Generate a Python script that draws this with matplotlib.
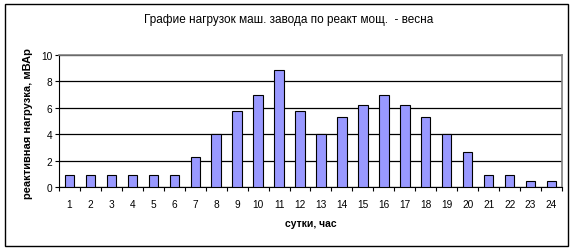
import matplotlib
matplotlib.use("Agg")
import matplotlib.pyplot as plt
from matplotlib.patches import Rectangle

# data
hours = list(range(1, 25))
load = [0.9, 0.9, 0.9, 0.9, 0.9, 0.9, 2.25, 4.0, 5.75, 7.0, 8.85, 5.75,
        4.0, 5.3, 6.2, 7.0, 6.2, 5.3, 4.0, 2.65, 0.9, 0.9, 0.45, 0.45]
yticks = [0, 2, 4, 6, 8, 10]

title = "Графие нагрузок маш. завода по реакт мощ.  - весна"
xlabel = "сутки, час"
ylabel = "реактивная нагрузка, мВАр"

plt.rcParams['font.family'] = ['Liberation Sans', 'DejaVu Sans']

W, H = 576, 253
fig = plt.figure(figsize=(W / 100, H / 100), dpi=100)

# outer chart border
fig.patches.append(Rectangle((5 / W, 1 - 247 / H), 563 / W, 242 / H,
                             transform=fig.transFigure, fill=False,
                             edgecolor='black', linewidth=1))

# plot area in pixels
left, right, top, bottom = 59, 562, 56, 188
ax = fig.add_axes([left / W, 1 - bottom / H, (right - left) / W, (bottom - top) / H])

ax.bar(hours, load, width=0.45, color='#9999FF', edgecolor='black', linewidth=0.8, zorder=3)

ax.set_xlim(0.5, 24.5)
ax.set_ylim(0, 10)
ax.set_yticks(yticks)
ax.set_xticks(hours)
ax.set_xticks([h + 0.5 for h in range(0, 25)], minor=True)
ax.tick_params(axis='x', which='major', length=0, labelsize=7.3, pad=9)
ax.tick_params(axis='x', which='minor', length=3, direction='out', width=0.8)
ax.tick_params(axis='y', length=3, direction='out', labelsize=7.3, width=0.8, pad=2)

ax.yaxis.grid(True, color='black', linewidth=0.9, zorder=0)
for s in ['top', 'right']:
    ax.spines[s].set_color('#808080')
    ax.spines[s].set_linewidth(1.2)
for s in ['left', 'bottom']:
    ax.spines[s].set_color('black')
    ax.spines[s].set_linewidth(0.8)

fig.text(288.5 / W, 1 - 20.5 / H, title, ha='center', va='center', fontsize=8.5)
fig.text((left + right) / 2 / W, 1 - 224 / H, xlabel, ha='center', va='center',
         fontsize=7.5, fontweight='bold')
fig.text(28 / W, 1 - 124 / H, ylabel, ha='center', va='center', rotation=90,
         fontsize=8, fontweight='bold')

fig.savefig("out.png", dpi=100)
